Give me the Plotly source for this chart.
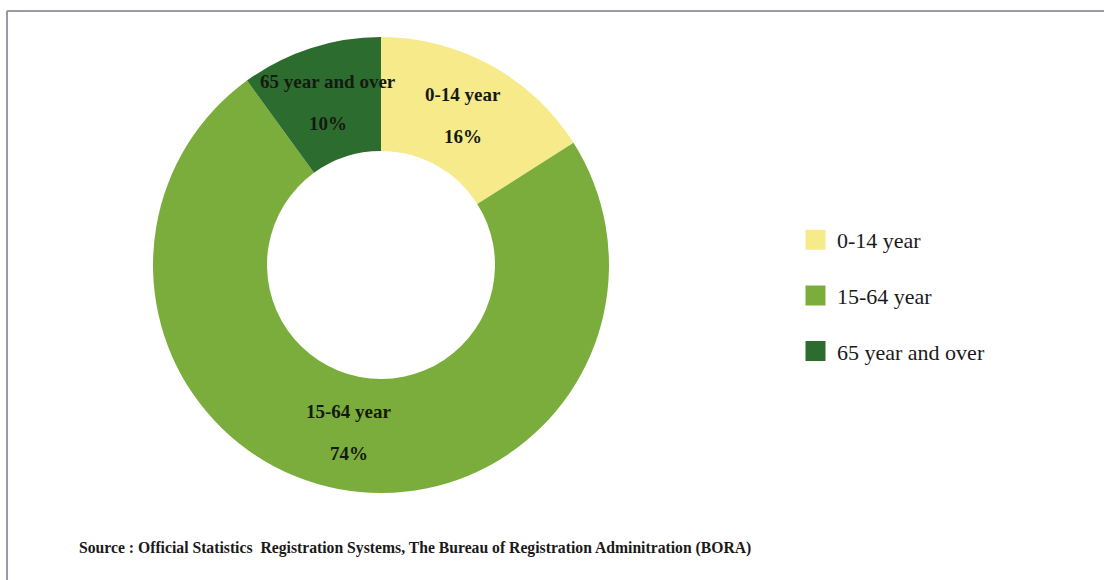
import math
import plotly.graph_objects as go

# Population by age group
groups = ["0-14 year", "15-64 year", "65 year and over"]
shares = [16, 74, 10]
colors = ["#f6ea8a", "#7bad3c", "#2d6c2f"]
source_note = ("Source : Official Statistics\u00a0\u00a0Registration Systems, "
               "The Bureau of Registration Adminitration (BORA)")

W, H = 1104, 580
# donut placement (pixels)
cx, cy, R = 381, 265, 228
hole = 0.5

fig = go.Figure()
fig.add_trace(go.Pie(
    labels=groups,
    values=shares,
    marker=dict(colors=colors, line=dict(width=0)),
    hole=hole,
    sort=False,
    direction="clockwise",
    rotation=0,
    textinfo="none",
    showlegend=False,
    domain=dict(x=[(cx - R) / W, (cx + R) / W],
                y=[1 - (cy + R) / H, 1 - (cy - R) / H]),
))

# slice labels placed at mid-angle, halfway across the ring
total = sum(shares)
label_font = dict(family="Liberation Serif, Times New Roman, serif",
                  size=19, color="#141a10")
cum = 0
for g, v in zip(groups, shares):
    mid = (cum + v / 2) / total * 2 * math.pi
    cum += v
    r = R * (1 + hole) / 2
    px = cx + r * math.sin(mid)
    py = cy - r * math.cos(mid)
    pct = f"{round(v / total * 100)}%"
    for txt, dy in ((g, -21), (pct, 21)):
        fig.add_annotation(x=px / W, y=1 - (py + dy) / H, xref="paper", yref="paper",
                           text=f"<b>{txt}</b>", showarrow=False,
                           font=label_font, xanchor="center", yanchor="middle")

# legend entries as square markers, one group each for spacing
for g, c in zip(groups, colors):
    fig.add_trace(go.Scatter(x=[None], y=[None], mode="markers", name=g,
                             legendgroup=g,
                             marker=dict(symbol="square", size=16, color=c,
                                         line=dict(color=c, width=4))))

fig.add_annotation(x=77 / W, y=1 - 548 / H, xref="paper", yref="paper",
                   text=f"<b>{source_note}</b>", showarrow=False,
                   xanchor="left", yanchor="middle",
                   font=dict(family="Liberation Sans Narrow, Arial Narrow, Liberation Serif, serif",
                             size=15.7, color="#1a1a1a"))

# outer frame (top and left edges)
frame = dict(color="#9a9aa6", width=2)
fig.add_shape(type="line", xref="paper", yref="paper",
              x0=7 / W, x1=1, y0=1 - 11 / H, y1=1 - 11 / H, line=frame)
fig.add_shape(type="line", xref="paper", yref="paper",
              x0=7 / W, x1=7 / W, y0=0, y1=1 - 11 / H, line=frame)

fig.update_layout(
    width=W, height=H,
    margin=dict(l=0, r=0, t=0, b=0),
    paper_bgcolor="white", plot_bgcolor="white",
    xaxis=dict(visible=False), yaxis=dict(visible=False),
    legend=dict(x=794 / W, y=1 - 219 / H, xanchor="left", yanchor="top",
                font=dict(family="Liberation Serif, Times New Roman, serif",
                          size=22, color="#1a1a1a"),
                tracegroupgap=24, itemwidth=33, bgcolor="rgba(0,0,0,0)"),
)

fig.write_html("out.html")
